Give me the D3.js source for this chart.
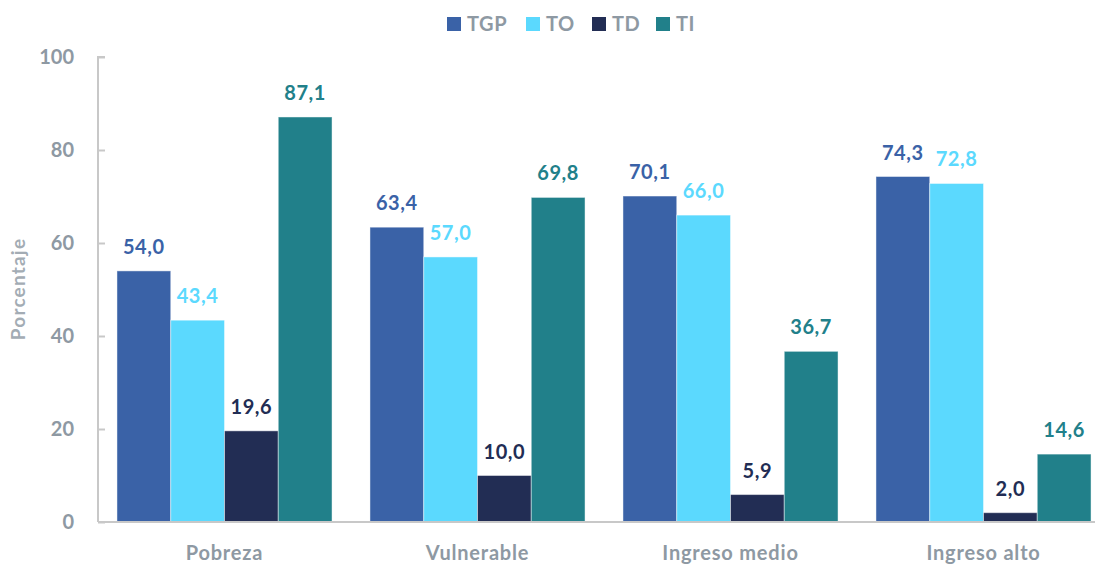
<!DOCTYPE html>
<html>
<head>
<meta charset="utf-8">
<script src="https://cdn.jsdelivr.net/npm/d3@7"></script>
<style>
  body { margin: 0; background: #fff; }
  svg { display: block; font-family: Lato, "Open Sans", sans-serif; font-weight: 700; }
</style>
</head>
<body>
<div id="viz"></div>
<script>
var categories = ['Pobreza', 'Vulnerable', 'Ingreso medio', 'Ingreso alto'];
var seriesNames = ['TGP', 'TO', 'TD', 'TI'];
var tgp = [54.0, 63.4, 70.1, 74.3];
var to = [43.4, 57.0, 66.0, 72.8];
var td = [19.6, 10.0, 5.9, 2.0];
var ti = [87.1, 69.8, 36.7, 14.6];
var yTicks = [0, 20, 40, 60, 80, 100];

var colors = ['#3a62a7', '#5bd9fe', '#222d54', '#21808a'];
var grey = '#8e99a3';

var width = 1095, height = 564;
var margin = {top: 57, bottom: 42, left: 98};

var svg = d3.select('#viz').append('svg')
    .attr('width', width)
    .attr('height', height);

var values = [tgp, to, td, ti];
var rows = categories.map(function(c, i) {
    return {cat: c, vals: seriesNames.map(function(s, j) { return {key: s, idx: j, v: values[j][i]}; })};
});

var x0 = d3.scaleBand()
    .domain(categories)
    .range([margin.left, 1110])
    .paddingInner(0.15)
    .paddingOuter(0.075);

var x1 = d3.scaleBand()
    .domain(seriesNames)
    .range([0, x0.bandwidth()]);

var y = d3.scaleLinear()
    .domain([0, 100])
    .range([height - margin.bottom, margin.top]);

var fmt = function(v) { return d3.format('.1f')(v).replace('.', ','); };

// y axis
var yAxis = svg.append('g')
    .attr('transform', 'translate(' + margin.left + ',0)')
    .call(d3.axisRight(y).tickValues(yTicks).tickSize(7).tickFormat(''));
yAxis.select('.domain').attr('stroke', '#c8c8c8').attr('stroke-width', 2).attr('d', 'M7,' + margin.top + 'H0V' + y(0));
yAxis.selectAll('.tick line').attr('stroke', '#c8c8c8').attr('stroke-width', 2);

svg.append('g').selectAll('text')
    .data(yTicks)
    .enter().append('text')
    .attr('x', 74)
    .attr('y', function(d) { return y(d) + 7; })
    .attr('text-anchor', 'end')
    .attr('fill', grey)
    .style('font-size', '20px')
    .text(function(d) { return d; });

svg.append('text')
    .attr('transform', 'translate(25,' + 289 + ') rotate(-90)')
    .attr('text-anchor', 'middle')
    .attr('fill', '#a3acb4')
    .style('font-size', '19px')
    .style('letter-spacing', '1.2px')
    .text('Porcentaje');

// bars
var groups = svg.append('g')
    .selectAll('g')
    .data(rows)
    .enter().append('g')
    .attr('transform', function(d) { return 'translate(' + x0(d.cat) + ',0)'; });

groups.selectAll('rect')
    .data(function(d) { return d.vals; })
    .enter().append('rect')
    .attr('x', function(d) { return x1(d.key); })
    .attr('y', function(d) { return y(d.v); })
    .attr('width', x1.bandwidth())
    .attr('height', function(d) { return y(0) - y(d.v); })
    .attr('fill', function(d) { return colors[d.idx]; })
    .attr('stroke', 'rgba(255,255,255,0.45)')
    .attr('stroke-width', 1);

groups.selectAll('text')
    .data(function(d) { return d.vals; })
    .enter().append('text')
    .attr('x', function(d) { return x1(d.key) + x1.bandwidth() / 2; })
    .attr('y', function(d) { return y(d.v) - 17; })
    .attr('text-anchor', 'middle')
    .attr('fill', function(d) { return colors[d.idx]; })
    .style('font-size', '20px')
    .style('letter-spacing', '0.6px')
    .text(function(d) { return fmt(d.v); });

// x axis
svg.append('line')
    .attr('x1', margin.left).attr('x2', width)
    .attr('y1', y(0)).attr('y2', y(0))
    .attr('stroke', '#c8c8c8')
    .attr('stroke-width', 2);

svg.append('g').selectAll('text')
    .data(categories)
    .enter().append('text')
    .attr('x', function(d) { return x0(d) + x0.bandwidth() / 2; })
    .attr('y', 560)
    .attr('text-anchor', 'middle')
    .attr('fill', grey)
    .style('font-size', '20px')
    .style('letter-spacing', '0.8px')
    .text(function(d) { return d; });

// legend
var legendX = [447, 526, 592, 656];
var legend = svg.append('g')
    .selectAll('g')
    .data(seriesNames)
    .enter().append('g')
    .attr('transform', function(d, i) { return 'translate(' + legendX[i] + ',17)'; });

legend.append('rect')
    .attr('width', 14)
    .attr('height', 14)
    .attr('fill', function(d, i) { return colors[i]; });

legend.append('text')
    .attr('x', 20)
    .attr('y', 14)
    .attr('fill', grey)
    .style('font-size', '20px')
    .style('letter-spacing', '0.6px')
    .text(function(d) { return d; });
</script>
</body>
</html>
